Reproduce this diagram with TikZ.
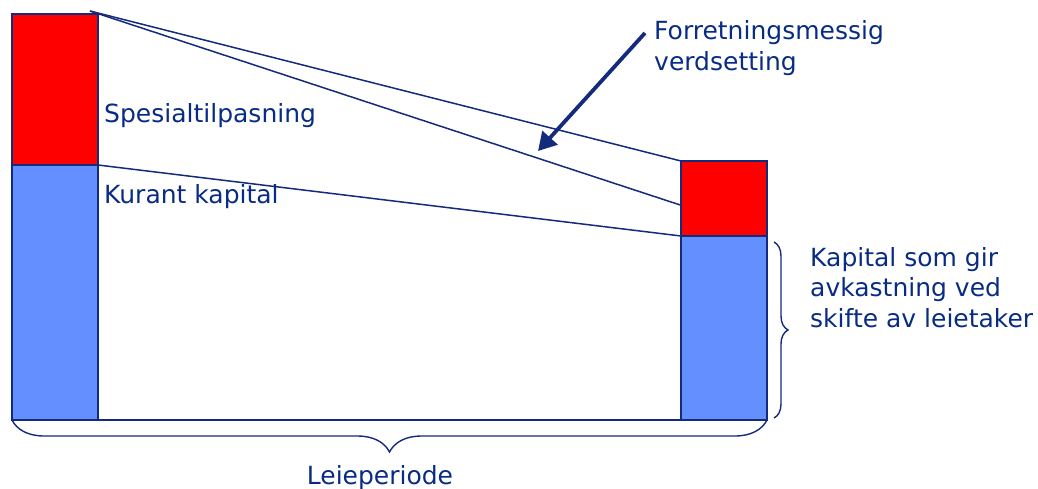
\documentclass[tikz,border=0pt]{standalone}
\usepackage{fontspec}
\setmainfont{DejaVu Sans}
\usetikzlibrary{arrows.meta,decorations.pathreplacing,calc}

\definecolor{navyline}{RGB}{20,42,125}
\definecolor{navytext}{RGB}{8,44,132}
\definecolor{barred}{RGB}{255,0,0}
\definecolor{barblue}{RGB}{99,143,255}

\begin{document}
\begin{tikzpicture}[x=1pt,y=-1pt,
  bar/.style={draw=navyline,line width=1.5pt,inner sep=0pt,outer sep=0pt,
    minimum width=86pt,anchor=north west},
  redbar/.style={bar,fill=barred},
  bluebar/.style={bar,fill=barblue},
  link/.style={navyline,line width=1.5pt},
  label/.style={text=navytext,inner sep=0pt,font=\fontsize{25}{30.5}\selectfont,align=left},
  bracestyle/.style={navyline,line width=1.4pt,decorate},
  pointer/.style={navyline,line width=3.8pt,-{Triangle[length=18pt,width=20pt]}}]

  \useasboundingbox (0,0) rectangle (1038,488);

  % capital bars at the start and the end of the lease
  \node[redbar,minimum height=151pt] (lred) at (12,14) {};
  \node[bluebar,minimum height=255pt] (lblue) at (12,165) {};
  \node[redbar,minimum height=75pt] (rred) at (681,161) {};
  \node[bluebar,minimum height=184pt] (rblue) at (681,236) {};

  % depreciation lines
  \coordinate (apex) at (90,11);
  \coordinate (rmid) at ($(rred.south west)!0.41!(rred.north west)$);
  \draw[link] (apex) -- (rred.north west);
  \draw[link] (apex) -- (rmid);
  \draw[link] (lred.south east) -- (rblue.north west);
  \draw[link] (lblue.south east) -- (rblue.south west);

  % labels (multi-line labels are placed by their last baseline)
  \node[label,anchor=base west] (spes) at (104,122) {Spesialtilpasning};
  \node[label,anchor=base west] (kurant) at (104,203) {Kurant kapital};
  \node[label,anchor=base west] (forr) at (654,70) {Forretningsmessig\\verdsetting};
  \node[label,anchor=base west] (kap) at (810,327) {Kapital som gir\\avkastning ved\\skifte av leietaker};
  \node[label,anchor=base] (leie) at (380,484) {Leieperiode};

  % arrow pointing at the valuation line
  \coordinate (arrstart) at (645,33);
  \coordinate (arrtip) at (538,151);
  \draw[pointer] (arrstart) -- (arrtip);

  % braces
  \draw[bracestyle,decoration={brace,amplitude=14pt}]
    ($(rblue.north east)+(7,6)$) -- ($(rblue.south east)+(7,-2)$);
  \draw[bracestyle,decoration={brace,amplitude=32pt,mirror}]
    (lblue.south west) -- (rblue.south east);
\end{tikzpicture}
\end{document}
